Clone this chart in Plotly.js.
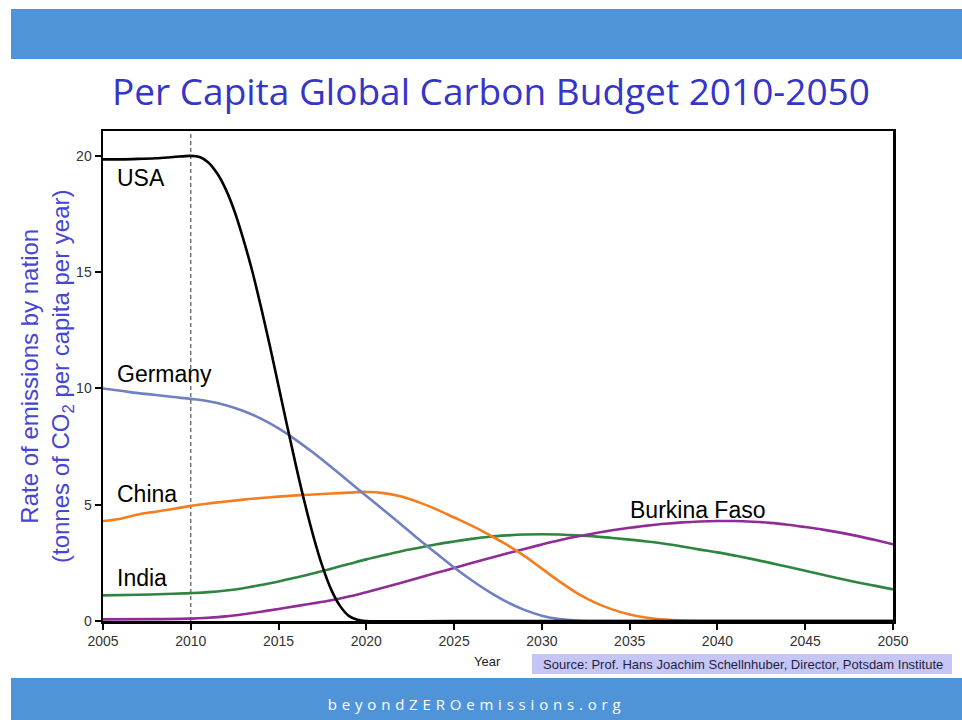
<!DOCTYPE html>
<html>
<head>
<meta charset="utf-8">
<script src="https://cdn.plot.ly/plotly-3.0.1.min.js"></script>
<style>
  html, body { margin: 0; padding: 0; background: #ffffff; }
  #chart { width: 962px; height: 720px; }
</style>
</head>
<body>
<div id="chart"></div>
<script>
// ---- Data ----
const yearsUSA = [2005, 2006, 2007, 2008, 2009, 2010, 2010.5, 2011, 2011.5, 2012, 2012.5, 2013, 2013.5, 2014, 2014.5, 2015, 2015.5, 2016, 2016.5, 2017, 2017.5, 2018, 2018.5, 2019, 2019.5, 2020, 2025, 2030, 2035, 2040, 2045, 2050];
const usa = [19.85, 19.85, 19.87, 19.9, 19.95, 20.0, 19.95, 19.72, 19.25, 18.55, 17.6, 16.4, 15.05, 13.5, 11.85, 10.1, 8.35, 6.65, 5.05, 3.6, 2.35, 1.35, 0.65, 0.22, 0.05, 0, 0, 0, 0, 0, 0, 0];

const yearsGermany = [2005, 2006, 2007, 2008, 2009, 2010, 2011, 2012, 2013, 2014, 2015, 2016, 2017, 2018, 2019, 2020, 2021, 2022, 2023, 2024, 2025, 2026, 2027, 2028, 2029, 2030, 2031, 2032, 2033, 2035, 2040, 2045, 2050];
const germany = [10.0, 9.9, 9.8, 9.72, 9.63, 9.55, 9.45, 9.28, 9.03, 8.7, 8.28, 7.78, 7.22, 6.62, 6.0, 5.38, 4.76, 4.14, 3.5, 2.9, 2.3, 1.75, 1.25, 0.82, 0.48, 0.23, 0.08, 0.02, 0, 0, 0, 0, 0];

const yearsChina = [2005, 2006, 2007, 2008, 2009, 2010, 2011, 2012, 2013, 2014, 2015, 2016, 2017, 2018, 2019, 2020, 2021, 2022, 2023, 2024, 2025, 2026, 2027, 2028, 2029, 2030, 2031, 2032, 2033, 2034, 2035, 2036, 2037, 2038, 2039, 2040, 2045, 2050];
const china = [4.3, 4.4, 4.58, 4.7, 4.82, 4.95, 5.05, 5.14, 5.22, 5.29, 5.35, 5.4, 5.44, 5.48, 5.52, 5.55, 5.5, 5.35, 5.1, 4.8, 4.45, 4.1, 3.7, 3.28, 2.8, 2.25, 1.7, 1.2, 0.8, 0.5, 0.28, 0.14, 0.06, 0.02, 0, 0, 0, 0];

const yearsIndia = [2005, 2007, 2009, 2010, 2011, 2012, 2013, 2014, 2015, 2016, 2017, 2018, 2019, 2020, 2021, 2022, 2023, 2024, 2025, 2026, 2027, 2028, 2029, 2030, 2031, 2032, 2033, 2034, 2035, 2036, 2037, 2038, 2039, 2040, 2041, 2042, 2043, 2044, 2045, 2046, 2047, 2048, 2049, 2050];
const india = [1.1, 1.13, 1.17, 1.2, 1.24, 1.31, 1.41, 1.55, 1.7, 1.87, 2.05, 2.25, 2.45, 2.65, 2.83, 3.0, 3.15, 3.3, 3.42, 3.53, 3.62, 3.68, 3.72, 3.73, 3.72, 3.68, 3.64, 3.57, 3.5, 3.42, 3.32, 3.2, 3.07, 2.95, 2.81, 2.66, 2.5, 2.33, 2.16, 1.99, 1.82, 1.66, 1.51, 1.36];

const yearsBurkina = [2005, 2008, 2010, 2011, 2012, 2013, 2014, 2015, 2016, 2017, 2018, 2019, 2020, 2021, 2022, 2023, 2024, 2025, 2026, 2027, 2028, 2029, 2030, 2031, 2032, 2033, 2034, 2035, 2036, 2037, 2038, 2039, 2040, 2041, 2042, 2043, 2044, 2045, 2046, 2047, 2048, 2049, 2050];
const burkina = [0.07, 0.08, 0.1, 0.14, 0.2, 0.29, 0.4, 0.52, 0.64, 0.76, 0.89, 1.05, 1.24, 1.44, 1.65, 1.86, 2.07, 2.28, 2.49, 2.7, 2.9, 3.1, 3.29, 3.47, 3.63, 3.77, 3.9, 4.01, 4.1, 4.18, 4.24, 4.28, 4.3, 4.3, 4.27, 4.22, 4.14, 4.04, 3.93, 3.8, 3.65, 3.48, 3.3];

const seriesNames = ["USA", "Germany", "China", "India", "Burkina Faso"];
const xTickVals = [2005, 2010, 2015, 2020, 2025, 2030, 2035, 2040, 2045, 2050];
const yTickVals = [0, 5, 10, 15, 20];
const policyYear = 2010;

// ---- Layout helpers (pixel -> paper) ----
const L = 103, R = 893, T = 131, B = 621;
const W = 962, H = 720;
const pxX = p => (p - L) / (R - L);
const pxY = p => (B - p) / (B - T);

const colors = {
  "USA": "#000000",
  "Germany": "#7080c2",
  "China": "#f57d1e",
  "India": "#2e8540",
  "Burkina Faso": "#902c96"
};

function lineTrace(x, y, name) {
  return {
    x: x, y: y, name: name, type: "scatter", mode: "lines",
    line: { color: colors[name], width: 2.6, shape: "spline", smoothing: 1 },
    hoverinfo: "x+y+name", cliponaxis: true
  };
}

const traces = [
  lineTrace(yearsIndia, india, "India"),
  lineTrace(yearsBurkina, burkina, "Burkina Faso"),
  lineTrace(yearsChina, china, "China"),
  lineTrace(yearsGermany, germany, "Germany"),
  lineTrace(yearsUSA, usa, "USA")
];

const labelFont = { family: "Liberation Sans, Arial, sans-serif", size: 23, color: "#000000" };
const labelPos = {
  "USA": [2005.7, 19.05],
  "Germany": [2005.7, 10.62],
  "China": [2005.7, 5.46],
  "India": [2005.7, 1.85],
  "Burkina Faso": [2034.9, 4.77]
};

const annotations = seriesNames.map(n => ({
  x: labelPos[n][0], y: labelPos[n][1], xref: "x", yref: "y",
  text: n, showarrow: false, xanchor: "left", yanchor: "middle",
  font: labelFont
}));

annotations.push({
  xref: "paper", yref: "paper", x: 0, y: pxY(376), xshift: -56,
  xanchor: "center", yanchor: "middle", textangle: -90, showarrow: false,
  text: "Rate of emissions by nation<br>(tonnes of CO<sub>2</sub> per capita per year)",
  font: { family: "Liberation Sans, Arial, sans-serif", size: 24, color: "#4646d2" }
});

annotations.push({
  xref: "paper", yref: "paper", x: pxX(487), y: pxY(661),
  xanchor: "center", yanchor: "middle", showarrow: false, text: "Year",
  font: { family: "Liberation Sans, Arial, sans-serif", size: 13, color: "#222222" }
});

annotations.push({
  xref: "paper", yref: "paper", x: pxX(541), y: pxY(664),
  xanchor: "left", yanchor: "middle", showarrow: false,
  text: "Source: Prof. Hans Joachim Schellnhuber, Director, Potsdam Institute",
  font: { family: "Liberation Sans, Arial, sans-serif", size: 13, color: "#1e1e3c" }
});

annotations.push({
  xref: "paper", yref: "paper", x: pxX(491), y: pxY(91),
  xanchor: "center", yanchor: "middle", showarrow: false,
  text: "Per Capita Global Carbon Budget 2010-2050",
  font: { family: "Open Sans, Noto Sans, sans-serif", size: 37, color: "#3535c8" }
});

annotations.push({
  xref: "paper", yref: "paper", x: pxX(476), y: pxY(704),
  xanchor: "center", yanchor: "middle", showarrow: false,
  text: "beyondZEROemissions.org",
  font: { family: "Open Sans, Noto Sans, sans-serif", size: 15, color: "#ffffff" }
});

const shapes = [
  // top band
  { type: "rect", xref: "paper", yref: "paper", x0: pxX(11), x1: pxX(W), y0: pxY(59), y1: pxY(9),
    fillcolor: "#4f94d9", line: { width: 0 }, layer: "below" },
  // bottom band
  { type: "rect", xref: "paper", yref: "paper", x0: pxX(11), x1: pxX(W), y0: pxY(H), y1: pxY(678),
    fillcolor: "#4f94d9", line: { width: 0 }, layer: "below" },
  // source box
  { type: "rect", xref: "paper", yref: "paper", x0: pxX(532), x1: pxX(952), y0: pxY(674), y1: pxY(654),
    fillcolor: "#c6c6f6", line: { width: 0 }, layer: "below" },
  // 2010 dashed line
  { type: "line", xref: "x", yref: "paper", x0: policyYear, x1: policyYear, y0: 0, y1: 1,
    line: { color: "#555555", width: 1.2, dash: "4px,3px" }, layer: "below" }
];

const tickFont = { family: "Liberation Sans, Arial, sans-serif", size: 14, color: "#333333" };

const layout = {
  width: W, height: H,
  margin: { l: L, r: W - R, t: T, b: H - B, pad: 0 },
  paper_bgcolor: "#ffffff", plot_bgcolor: "#ffffff",
  showlegend: false,
  xaxis: {
    range: [2005, 2050], tickvals: xTickVals, ticktext: xTickVals.map(String),
    ticks: "outside", ticklen: 6, tickwidth: 2, tickcolor: "#000000",
    showline: true, mirror: true, linecolor: "#000000", linewidth: 2.5,
    showgrid: false, zeroline: false, tickfont: tickFont, fixedrange: true
  },
  yaxis: {
    range: [0, 21.07], tickvals: yTickVals, ticktext: yTickVals.map(String),
    ticks: "outside", ticklen: 6, tickwidth: 2, tickcolor: "#000000",
    showline: true, mirror: true, linecolor: "#000000", linewidth: 2.5,
    showgrid: false, zeroline: false, tickfont: tickFont, fixedrange: true
  },
  annotations: annotations,
  shapes: shapes
};

Plotly.newPlot("chart", traces, layout, { displayModeBar: false, staticPlot: true }).then(() => {
  document.querySelectorAll("#chart text").forEach(t => {
    if (t.textContent === "beyondZEROemissions.org") {
      t.style.letterSpacing = "4.8px";
    }
  });
});
</script>
</body>
</html>
